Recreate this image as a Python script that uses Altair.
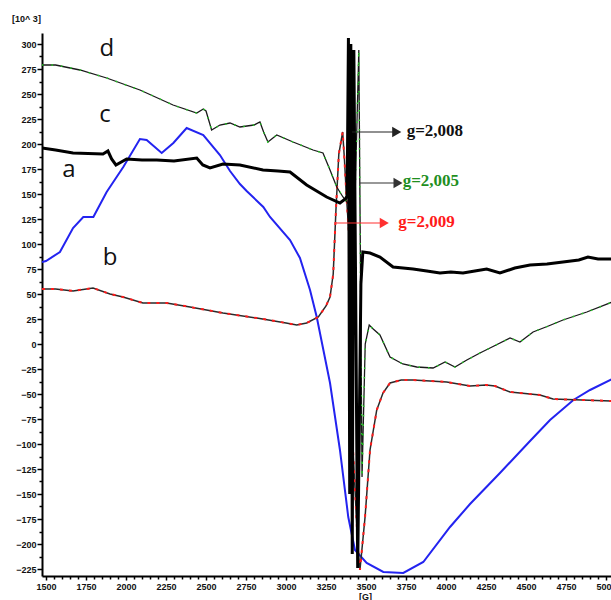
import altair as alt
import pandas as pd

# ---- series (G in gauss, value in 10^3) ----
d_g = [1475, 1560, 1712, 1879, 2087, 2294, 2442, 2483, 2500, 2535, 2587, 2650, 2712, 2800, 2837, 2860, 2887, 2942, 3044, 3169, 3231, 3275, 3317, 3356, 3390, 3430, 3455, 3475, 3495, 3520, 3545, 3587, 3650, 3730, 3817, 3919, 3994, 4056, 4130, 4212, 4300, 4400, 4462, 4544, 4640, 4731, 4880, 5040]
d_v = [279, 279, 274, 266, 254, 239, 231, 235, 233, 214, 219, 221, 217, 219, 222, 212, 202, 209, 202, 194, 191, 174, 157, 147, 140, 138, 294, -133, 0, 19, 15, 9, -13, -20, -23, -24, -18, -23, -16, -9, -2, 6, 2, 12, 18, 24, 32, 42]

a_g = [1475, 1560, 1669, 1856, 1887, 1910, 1937, 2004, 2100, 2192, 2300, 2442, 2480, 2525, 2606, 2712, 2856, 2950, 3025, 3129, 3254, 3337, 3370, 3382, 3390, 3398, 3405, 3414, 3424, 3448, 3468, 3480, 3525, 3587, 3669, 3794, 3880, 3962, 4030, 4106, 4180, 4254, 4337, 4430, 4525, 4631, 4731, 4830, 4887, 4950, 5040]
a_v = [196, 194, 191, 190, 193, 185, 179, 185, 184, 184, 183, 186, 179, 176, 180, 179, 174, 173, 172, 159, 147, 141, 145, 148, 306, -150, 300, -210, 294, -224, 60, 92, 91, 87, 77, 75, 73, 71, 72, 71, 73, 75, 71, 76, 79, 80, 82, 84, 87, 85, 85]

b_g = [1475, 1560, 1669, 1794, 1900, 1981, 2106, 2254, 2400, 2606, 2817, 3000, 3067, 3129, 3202, 3250, 3275, 3295, 3312, 3330, 3354, 3365, 3379, 3400, 3419, 3450, 3462, 3494, 3525, 3567, 3606, 3650, 3720, 3794, 3900, 4004, 4150, 4250, 4306, 4400, 4587, 4669, 4850, 5040]
b_v = [55, 55, 53, 56, 50, 47, 41, 41, 37, 31, 26, 21, 19, 21, 27, 38, 47, 70, 134, 190, 212, 185, 144, 94, -106, -206, -226, -173, -106, -66, -49, -39, -36, -36, -37, -38, -42, -41, -42, -48, -51, -55, -56, -57]

blue_g = [1475, 1500, 1587, 1669, 1733, 1796, 1879, 1983, 2087, 2129, 2223, 2296, 2379, 2483, 2587, 2650, 2712, 2754, 2858, 2900, 3025, 3087, 3150, 3192, 3275, 3337, 3389, 3431, 3504, 3608, 3733, 3858, 4025, 4150, 4337, 4525, 4650, 4796, 4900, 5040]
blue_v = [82, 83, 92, 116, 127, 127, 152, 177, 205, 204, 191, 201, 216, 209, 189, 173, 160, 153, 137, 127, 104, 86, 54, 27, -39, -106, -173, -206, -219, -228, -229, -218, -183, -160, -129, -97, -76, -56, -46, -35]

# ---- annotations ----
ann_text = ["g=2,008", "g=2,005", "g=2,009"]
ann_color = ["#111111", "#1f8f1f", "#ff1a1a"]
ann_line_color = ["#222222", "#333333", "#ff3030"]
ann_x1 = [3412, 3460, 3306]
ann_x2 = [3692, 3700, 3614]
ann_y = [212, 161, 121]
ann_text_g = [3754, 3729, 3702]
ann_text_v = [213, 163, 122]

letters = ["d", "c", "a", "b"]
letter_g = [1881, 1869, 1644, 1900]
letter_v = [288, 222, 167, 79]

def frame(g, v):
    return pd.DataFrame({"G": g, "V": v})

x_scale = alt.Scale(domain=[1475, 5031], nice=False, zero=False)
y_scale = alt.Scale(domain=[-232, 311], nice=False, zero=False)

x_axis = alt.Axis(
    values=list(range(1500, 5001, 50)),
    labelExpr="datum.value % 250 === 0 ? datum.label : ''",
    format="d",
    labelOverlap=False, labelFlush=False,
    tickSize={"condition": {"test": "datum.value % 250 === 0", "value": 4}, "value": 3},
    labelPadding=2,
    title="[G]", titleX=323, titleY=20, titleAlign="center", titleBaseline="middle",
    titleFontSize=9, titleFontWeight="bold", titleFont="Liberation Sans", titleColor="#111",
)
y_axis = alt.Axis(
    values=[v / 2 for v in range(-450, 601, 25)],
    labelExpr="datum.value % 25 === 0 ? datum.label : ''",
    format="d",
    labelOverlap=False, labelFlush=False,
    tickSize={"condition": {"test": "datum.value % 25 === 0", "value": 5}, "value": 3},
    labelPadding=1,
    title="[10^ 3]", titleAngle=0, titleX=-16, titleY=-15, titleAlign="center",
    titleBaseline="middle", titleFontSize=9, titleFontWeight="bold",
    titleFont="Liberation Sans", titleColor="#111",
)

X = alt.X("G:Q", scale=x_scale, axis=x_axis)
Y = alt.Y("V:Q", scale=y_scale, axis=y_axis)

blue = alt.Chart(frame(blue_g, blue_v)).mark_line(color="#2323f0", strokeWidth=2, clip=True).encode(x=X, y=Y)
b_line = alt.Chart(frame(b_g, b_v)).mark_line(color="#2a2a2a", strokeWidth=1.5, clip=True).encode(x=X, y=Y)
b_red = alt.Chart(frame(b_g, b_v)).mark_line(color="#ff1a1a", strokeWidth=2, strokeDash=[3, 6], clip=True).encode(x=X, y=Y)
d_line = alt.Chart(frame(d_g, d_v)).mark_line(color="#1a1a1a", strokeWidth=1.3, clip=True).encode(x=X, y=Y)
d_green = alt.Chart(frame(d_g, d_v)).mark_line(color="#22cc22", strokeWidth=1.5, strokeDash=[1.5, 8], clip=True).encode(x=X, y=Y)
a_line = alt.Chart(frame(a_g, a_v)).mark_line(color="#000000", strokeWidth=3, clip=True).encode(x=X, y=Y)

ann_df = pd.DataFrame({
    "G": ann_x1, "G2": ann_x2, "V": ann_y, "c": ann_line_color,
    "tg": ann_text_g, "tv": ann_text_v, "t": ann_text, "tc": ann_color,
})
rules = alt.Chart(ann_df).mark_rule(strokeWidth=1.2).encode(
    x=X, x2="G2:Q", y=Y, color=alt.Color("c:N", scale=None))
heads = alt.Chart(ann_df).mark_point(shape="triangle-right", filled=True, size=110, opacity=1).encode(
    x=alt.X("G2:Q", scale=x_scale, axis=x_axis), y=Y, color=alt.Color("c:N", scale=None))
texts = alt.Chart(ann_df).mark_text(font="Liberation Serif", fontSize=17, fontWeight="bold",
                                     align="left", baseline="middle").encode(
    x=alt.X("tg:Q", scale=x_scale, axis=x_axis), y=alt.Y("tv:Q", scale=y_scale, axis=y_axis),
    text="t:N", color=alt.Color("tc:N", scale=None))

letter_df = pd.DataFrame({"G": letter_g, "V": letter_v, "t": letters})
letter_marks = alt.Chart(letter_df).mark_text(font="Open Sans", fontSize=24, color="#111",
                                              align="center", baseline="alphabetic").encode(
    x=X, y=Y, text="t:N")

chart = alt.layer(blue, b_line, b_red, d_line, d_green, a_line, rules, heads, texts, letter_marks).properties(
    width=569, height=543,
    padding={"left": 42, "top": 33, "right": 0, "bottom": 24},
    autosize=alt.AutoSizeParams(type="none"),
    background="white",
).configure_view(stroke=None).configure_axis(
    grid=False, domainColor="#000", domainWidth=2, tickColor="#000", tickWidth=1.5,
    labelFont="Liberation Sans", labelFontSize=9, labelFontWeight="bold", labelColor="#111",
)

chart.save("out.html", embed_options={"renderer": "svg", "actions": False})
